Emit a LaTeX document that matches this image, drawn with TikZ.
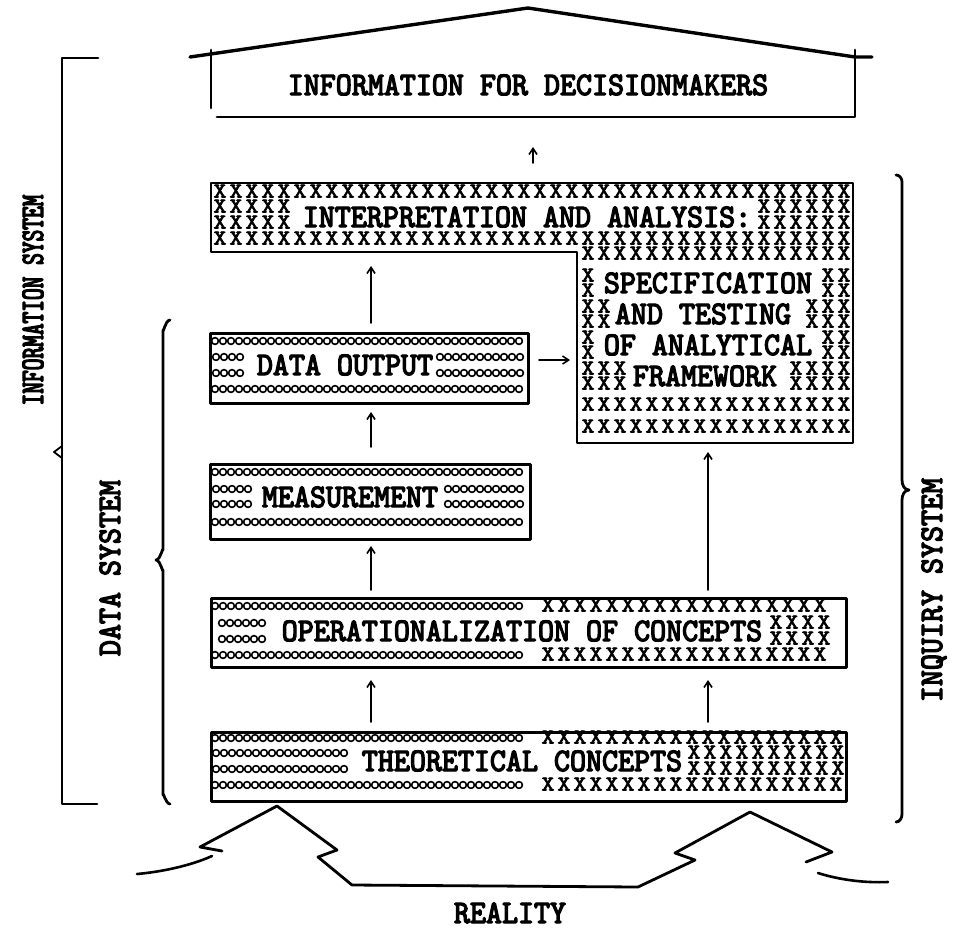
\documentclass[tikz,border=0pt]{standalone}
\usepackage{fontspec}
\usetikzlibrary{arrows.meta}
\newfontfamily\tw[FakeBold=4,FakeStretch=0.93]{lmmono10-regular.otf}
\newfontfamily\twc[FakeBold=4,FakeStretch=0.68]{lmmono10-regular.otf}
\newfontfamily\xw[FakeBold=3,FakeStretch=1.2]{lmmono10-regular.otf}
\newcommand\xrow[4]{\foreach \k in {1,...,#3} \node[xg] (#1-\k) at ({#2+16*(\k-1)},#4) {X};}
\newcommand\orow[3]{\foreach \k in {1,...,#2} \draw[ol] ({#1+8*(\k-1)},#3) circle[radius=3.4];}
\begin{document}
\begin{tikzpicture}[x=1pt,y=-1pt,line cap=round,line join=round,
  bx/.style={line width=2.8pt},
  boxn/.style={draw,line width=2.8pt,inner sep=0pt,anchor=north west},
  lab/.style={font={\tw\fontsize{32.8}{33}\selectfont},inner sep=0pt,text height=20pt,text depth=0pt},
  labc/.style={font={\twc\fontsize{32.8}{33}\selectfont},inner sep=0pt,text height=20pt,text depth=0pt},
  xg/.style={font={\xw\fontsize{21}{21}\selectfont},inner sep=0pt,text height=11pt,text depth=0pt},
  ol/.style={line width=1.6pt},
  arr/.style={line width=1.6pt,-{Straight Barb[length=6pt,width=8pt]}},
  brk/.style={line width=2.8pt}]
\useasboundingbox (0,0) rectangle (955,929);
\fill[white] (0,0) rectangle (955,929);

% roof and information box
\draw[line width=3.4pt] (190,57) -- (528,8) -- (855,57) -- (872,57);
\draw[bx] (211,50) -- (211,108);
\draw[bx] (217,117) -- (855,117) -- (855,50);
\node[lab] (info) at (528,85) {INFORMATION FOR DECISIONMAKERS};

% interpretation / specification box
\draw[bx] (211,183) -- (853,183) -- (853,443) -- (577,443) -- (577,252) -- (211,252) -- cycle;
\xrow{ia}{220}{40}{192}
\xrow{ib}{220}{5}{207}
\xrow{ic}{220}{5}{223}
\xrow{id}{764}{6}{207}
\xrow{ie}{764}{6}{223}
\node[lab] (interp) at (527,217) {INTERPRETATION AND ANALYSIS:};
\xrow{if}{220}{40}{239}
\xrow{ig}{588}{17}{254}
% SPECIFICATION
\xrow{s1a}{588}{1}{276}\xrow{s1b}{588}{1}{291}
\node[lab] (spec1) at (708,283) {SPECIFICATION};
\xrow{s1c}{828}{2}{276}\xrow{s1d}{828}{2}{291}
% AND TESTING
\xrow{s2a}{588}{2}{307}\xrow{s2b}{588}{2}{322}
\node[lab] (spec2) at (703,314) {AND TESTING};
\xrow{s2c}{812}{3}{307}\xrow{s2d}{812}{3}{322}
% OF ANALYTICAL
\xrow{s3a}{588}{1}{338}\xrow{s3b}{588}{1}{353}
\node[lab] (spec3) at (708,345) {OF ANALYTICAL};
\xrow{s3c}{828}{2}{338}\xrow{s3d}{828}{2}{353}
% FRAMEWORK
\xrow{s4a}{588}{3}{369}\xrow{s4b}{588}{3}{384}
\node[lab] (spec4) at (705,376) {FRAMEWORK};
\xrow{s4c}{796}{4}{369}\xrow{s4d}{796}{4}{384}
\xrow{sr1}{588}{17}{405}
\xrow{sr2}{588}{17}{427}

% data output
\node[boxn,minimum width=318pt,minimum height=70pt] (dout) at (209,332) {};
\orow{215}{39}{341}
\orow{216}{4}{357}\orow{216}{4}{373}
\node[lab] (dtext) at (345,365) {DATA OUTPUT};
\orow{440}{11}{357}\orow{440}{11}{373}
\orow{215}{39}{389}

% measurement
\node[boxn,minimum width=320pt,minimum height=75pt] (meas) at (209,463) {};
\orow{215}{39}{472}
\orow{216}{5}{489}\orow{216}{5}{504}
\node[lab] (mtext) at (350,497) {MEASUREMENT};
\orow{448}{10}{489}\orow{448}{10}{504}
\orow{215}{39}{522}

% operationalization
\node[boxn,minimum width=635pt,minimum height=69pt] (oper) at (210,597) {};
\orow{215}{39}{606}\xrow{oa}{548}{18}{606}
\orow{222}{6}{623}\orow{222}{6}{639}
\node[lab] (otext) at (522,631) {OPERATIONALIZATION OF CONCEPTS};
\xrow{ob}{776}{4}{623}\xrow{oc}{776}{4}{639}
\orow{215}{39}{655}\xrow{od}{548}{18}{655}

% theoretical concepts
\node[boxn,minimum width=635pt,minimum height=69pt] (theo) at (210,731) {};
\orow{215}{39}{738}\xrow{ta}{548}{19}{738}
\orow{216}{17}{753}\orow{216}{17}{769}
\node[lab] (ttext) at (522,761) {THEORETICAL CONCEPTS};
\xrow{tb}{694}{10}{753}\xrow{tc}{694}{10}{769}
\orow{215}{39}{785}\xrow{td}{548}{19}{785}

% arrows
\coordinate (a0s) at (533,163); \coordinate (a0e) at (533,147);
\coordinate (a1s) at (371,323); \coordinate (a1e) at (371,266);
\coordinate (a2s) at (371,447); \coordinate (a2e) at (371,412);
\coordinate (a3s) at (371,590); \coordinate (a3e) at (371,546);
\coordinate (a4s) at (371,722); \coordinate (a4e) at (371,680);
\coordinate (a5s) at (708,722); \coordinate (a5e) at (708,680);
\coordinate (a6s) at (708,590); \coordinate (a6e) at (708,452);
\coordinate (a7s) at (539,360); \coordinate (a7e) at (570,360);
\foreach \a in {0,...,7} \draw[arr] (a\a s) -- (a\a e);

% information system bracket
\draw[brk] (98,58) -- (62,58) -- (62,804) -- (97,804);
\draw[line width=1.8pt] (62,446) -- (54,452) -- (62,458);
\node[labc,rotate=90] (infosys) at (33,300) {INFORMATION SYSTEM};

% data system brace
\draw[brk] (170,320) to[out=180,in=-90] (163,330) -- (163,550) to[out=90,in=0] (156,560) to[out=0,in=-90] (163,570) -- (163,795) to[out=90,in=180] (170,804);
\node[lab,rotate=90] (datasys) at (110,568) {DATA SYSTEM};

% inquiry system brace
\draw[brk] (896,175) to[out=0,in=90] (902,182) -- (902,480) to[out=-90,in=180] (909,490) to[out=180,in=90] (902,500) -- (902,814) to[out=-90,in=0] (896,822);
\node[lab,rotate=90] (inqsys) at (932,590) {INQUIRY SYSTEM};

% reality
\draw[line width=2.8pt] (222,851) -- (200,847) -- (277,806) -- (337,850) -- (318,857) -- (352,885) -- (638,887) -- (695,860) -- (675,853) -- (750,812) -- (832,852) -- (806,862);
\draw[line width=2.6pt] (212,856) .. controls (190,866) and (160,872) .. (137,874);
\draw[line width=2.6pt] (818,873) .. controls (840,880) and (865,883) .. (888,882);
\node[lab] (reality) at (510,913) {REALITY};
\end{tikzpicture}
\end{document}
